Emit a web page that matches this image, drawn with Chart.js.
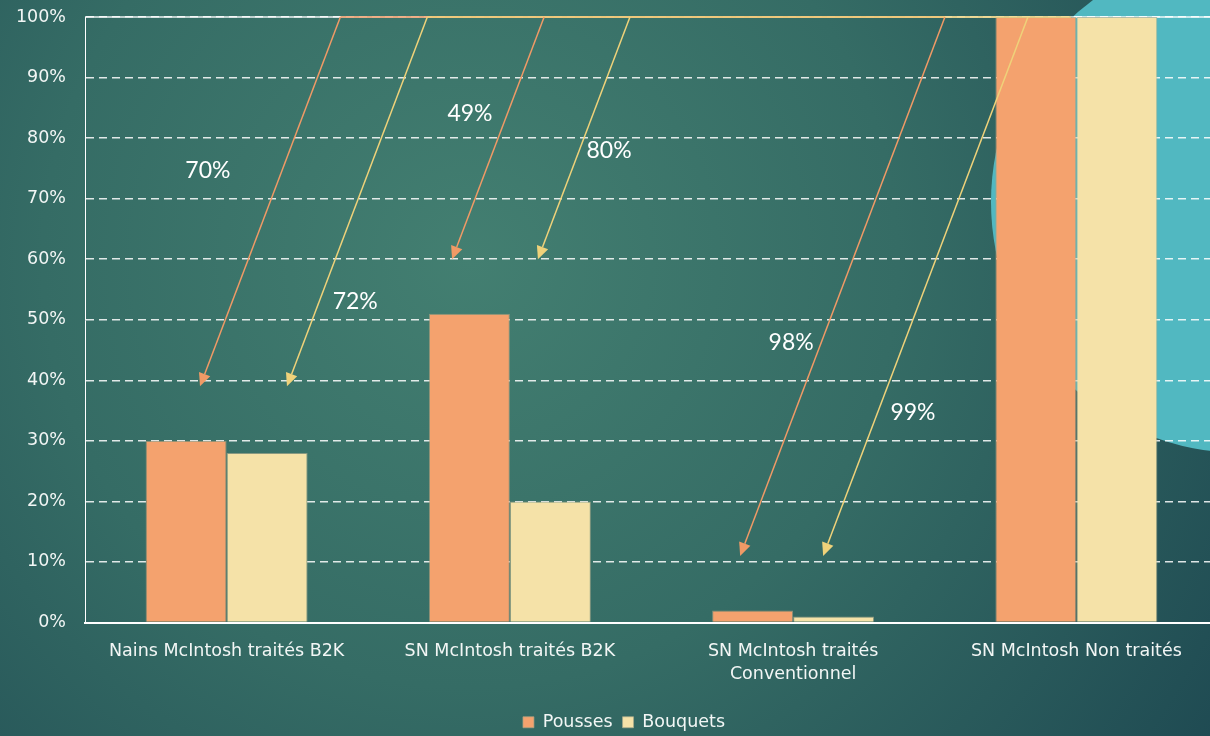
<!DOCTYPE html>
<html>
<head>
<meta charset="utf-8">
<script src="https://cdn.jsdelivr.net/npm/chart.js@4.4.1/dist/chart.umd.min.js"></script>
<style>
  html, body { margin: 0; padding: 0; overflow: hidden; background: #2c5f5c; }
  /* the slide's plot runs a few px past the right edge of the window */
  #wrap { width: 1218px; height: 736px; position: relative; }
</style>
</head>
<body>
<div id="wrap"><canvas id="chart"></canvas></div>
<script>
/* ─── DATA ─────────────────────────────────────────────── */
const categories = [
  'Nains McIntosh traités B2K',
  'SN McIntosh traités B2K',
  ['SN McIntosh traités', 'Conventionnel'],
  'SN McIntosh Non traités'
];
const pousses  = [30, 51, 2, 100];
const bouquets = [28, 20, 1, 100];

// reduction vs. untreated, shown next to the arrows
const poussesReduction  = [70, 49, 98];
const bouquetsReduction = [72, 80, 99];

const yTickStep = 10;
const yMax = 100;

/* ─── COLOURS ──────────────────────────────────────────── */
const ORANGE = '#f4a26e';
const CREAM  = '#f5e2a8';
const ARROW_ORANGE = '#f09a66';
const ARROW_YELLOW = '#efd27a';
const TEXT = '#f2f6f5';

/* ─── BACKGROUND: teal gradient + cyan disc ─────────────── */
const backdrop = {
  id: 'backdrop',
  beforeDraw(chart) {
    const { ctx, width, height } = chart;
    ctx.save();
    const g = ctx.createRadialGradient(470, 260, 0, 470, 260, 950);
    g.addColorStop(0, '#437f71');
    g.addColorStop(0.45, '#356c65');
    g.addColorStop(1, '#1c4650');
    ctx.fillStyle = g;
    ctx.fillRect(0, 0, width, height);
    ctx.fillStyle = '#51b8c1';
    ctx.beginPath();
    ctx.arc(width + 24, 202, 251, 0, Math.PI * 2);
    ctx.fill();
    ctx.restore();
  },
  afterLayout(chart) {
    // legend sits a little right of centre on the slide
    const lg = chart.legend;
    if (lg) { lg.left += 15; lg.right += 15; }
  },
  beforeDatasetsDraw(chart) {
    // the 100% line is solid, not dashed
    const { ctx, chartArea, scales: { y } } = chart;
    const py = y.getPixelForValue(yMax);
    ctx.save();
    ctx.strokeStyle = 'rgba(255,255,255,0.9)';
    ctx.lineWidth = 1.5;
    ctx.beginPath();
    ctx.moveTo(chartArea.left, py);
    ctx.lineTo(chartArea.right, py);
    ctx.stroke();
    ctx.restore();
  }
};

/* ─── REDUCTION ARROWS ─────────────────────────────────── */
// tips / labels are placed in scale units: x = category index, y = %
const arrowLayout = [
  { tips: [-0.094, 0.213], labels: [[-0.066, 74.6], [0.454, 53]] },
  { tips: [-0.204, 0.099], labels: [[0.859, 84], [1.35, 78]] },
  { tips: [-0.187, 0.106], labels: [[1.993, 46.2], [2.423, 34.7]] }
];
const ARROW_LIFT = 9;      // tip sits this many % above the taller bar
const ARROW_SLANT = 0.38;  // horizontal px per vertical px

const reductionArrows = {
  id: 'reductionArrows',
  afterDatasetsDraw(chart) {
    const { ctx, scales: { x, y } } = chart;
    const topY = y.getPixelForValue(yMax);
    const colours = [ARROW_ORANGE, ARROW_YELLOW];
    const values = [poussesReduction, bouquetsReduction];

    const segs = arrowLayout.map((a, i) => {
      const tipY = y.getPixelForValue(Math.max(pousses[i], bouquets[i]) + ARROW_LIFT);
      return a.tips.map(t => {
        const tipX = x.getPixelForValue(i + t);
        return { tipX, tipY, startX: tipX + (tipY - topY) * ARROW_SLANT };
      });
    });

    ctx.save();
    ctx.lineWidth = 1.5;
    // runs along the 100% line
    ctx.strokeStyle = ARROW_ORANGE;
    ctx.beginPath();
    ctx.moveTo(segs[0][0].startX, topY);
    ctx.lineTo(segs[2][0].startX, topY);
    ctx.stroke();
    ctx.strokeStyle = ARROW_YELLOW;
    ctx.beginPath();
    ctx.moveTo(segs[0][1].startX, topY);
    ctx.lineTo(x.getPixelForValue(categories.length - 1.02), topY);
    ctx.stroke();

    segs.forEach(pair => pair.forEach((s, k) => {
      const ang = Math.atan2(s.tipY - topY, s.tipX - s.startX);
      const len = 13, half = 6;
      const bx = s.tipX - Math.cos(ang) * len;
      const by = s.tipY - Math.sin(ang) * len;
      ctx.strokeStyle = colours[k];
      ctx.fillStyle = colours[k];
      ctx.beginPath();
      ctx.moveTo(s.startX, topY);
      ctx.lineTo(bx, by);
      ctx.stroke();
      ctx.beginPath();
      ctx.moveTo(s.tipX, s.tipY);
      ctx.lineTo(bx + Math.sin(ang) * half, by - Math.cos(ang) * half);
      ctx.lineTo(bx - Math.sin(ang) * half, by + Math.cos(ang) * half);
      ctx.closePath();
      ctx.fill();
    }));

    ctx.fillStyle = '#ffffff';
    ctx.font = '400 23px Lato, "Open Sans", sans-serif';
    ctx.textAlign = 'center';
    ctx.textBaseline = 'middle';
    arrowLayout.forEach((a, i) => a.labels.forEach((l, k) => {
      ctx.fillText(values[k][i] + '%', x.getPixelForValue(l[0]), y.getPixelForValue(l[1]));
    }));
    ctx.restore();
  }
};

/* ─── CHART ────────────────────────────────────────────── */
const tickFont = { family: '"DejaVu Sans", sans-serif', size: 17.5, lineHeight: 1.3 };

new Chart(document.getElementById('chart'), {
  type: 'bar',
  data: {
    labels: categories,
    datasets: [
      { label: 'Pousses',  data: pousses,  backgroundColor: ORANGE, borderColor: 'rgba(170,160,130,0.7)', borderWidth: 1 },
      { label: 'Bouquets', data: bouquets, backgroundColor: CREAM,  borderColor: 'rgba(170,170,140,0.7)', borderWidth: 1 }
    ]
  },
  options: {
    responsive: true,
    maintainAspectRatio: false,
    animation: false,
    layout: { padding: { top: 17, right: 0, left: 0, bottom: -5 } },
    datasets: { bar: { categoryPercentage: 0.572, barPercentage: 1 } },
    plugins: {
      legend: {
        position: 'bottom',
        labels: {
          color: TEXT,
          font: { family: '"DejaVu Sans", sans-serif', size: 17.5 },
          boxWidth: 11,
          boxHeight: 11,
          padding: 10
        }
      },
      tooltip: { enabled: false }
    },
    scales: {
      x: {
        grid: { display: false },
        border: { color: '#ffffff', width: 2 },
        ticks: { color: TEXT, font: tickFont, padding: 10, maxRotation: 0 },
        afterFit: s => { s.height = 81; }
      },
      y: {
        min: 0,
        max: yMax,
        // tick marks are invisible; their length gives the gap to the labels
        grid: { color: 'rgba(255,255,255,0.85)', lineWidth: 1.5, drawTicks: true, tickLength: 19, tickColor: 'rgba(0,0,0,0)' },
        border: { color: '#ffffff', width: 1, dash: [8, 5] },
        ticks: {
          stepSize: yTickStep,
          color: TEXT,
          font: { family: '"DejaVu Sans", sans-serif', size: 17.5 },
          padding: 0,
          callback: v => v + '%'
        },
        afterFit: s => { s.width = 85; }
      }
    }
  },
  plugins: [backdrop, reductionArrows]
});
</script>
</body>
</html>
